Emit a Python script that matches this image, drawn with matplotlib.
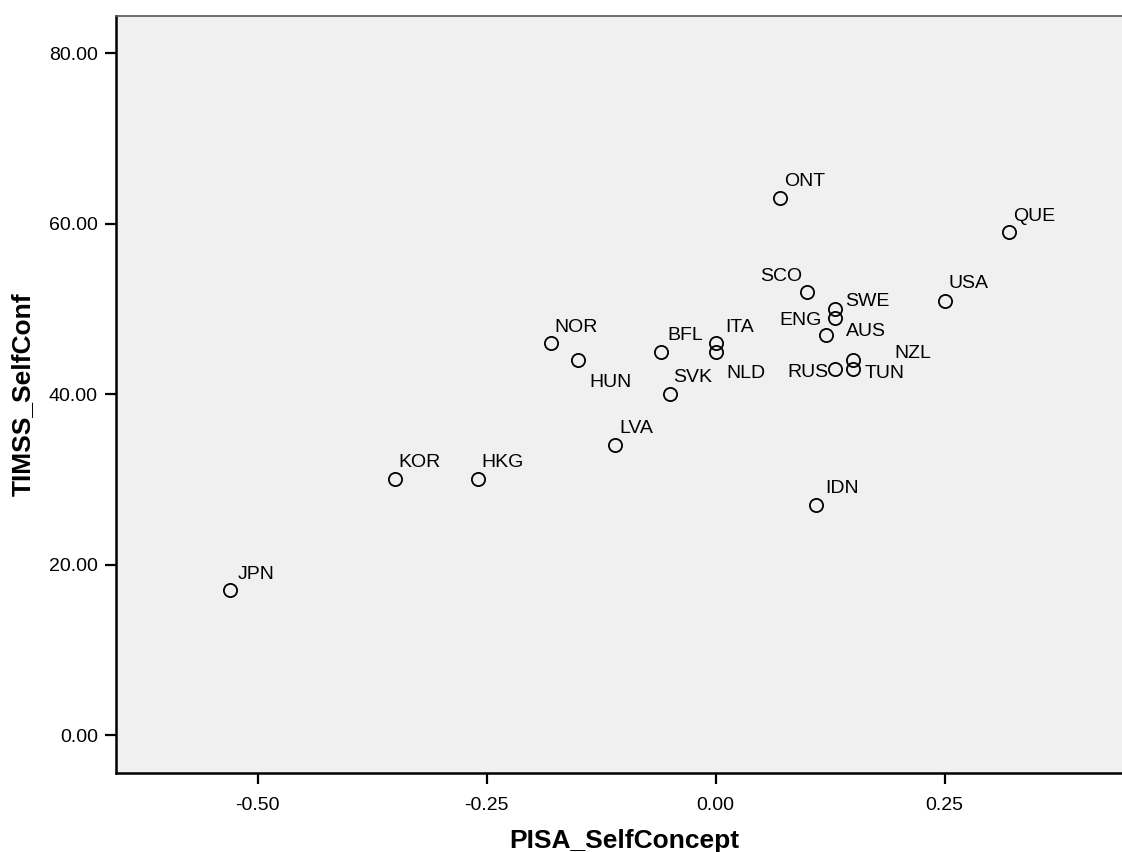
import matplotlib
matplotlib.use("Agg")
import matplotlib.pyplot as plt

countries = ["JPN", "KOR", "HKG", "NOR", "HUN", "BFL", "ITA", "NLD", "SVK", "LVA", "IDN",
             "ONT", "QUE", "SCO", "USA", "SWE", "ENG", "AUS", "RUS", "NZL", "TUN"]
pisa_selfconcept = [-0.53, -0.35, -0.26, -0.18, -0.15, -0.06, 0.00, 0.00, -0.05, -0.11, 0.11,
                    0.07, 0.32, 0.10, 0.25, 0.13, 0.13, 0.12, 0.13, 0.15, 0.15]
timss_selfconf = [17, 30, 30, 46, 44, 45, 46, 45, 40, 34, 27,
                  63, 59, 52, 51, 50, 49, 47, 43, 44, 43]

x_ticks = [-0.50, -0.25, 0.00, 0.25]
y_ticks = [0, 20, 40, 60, 80]

# label placement (offset in pixels, horizontal alignment) -- layout only
label_offsets = {
    "JPN": (7, 11, "left"), "KOR": (3.5, 12, "left"), "HKG": (4, 12, "left"),
    "NOR": (3.6, 11.4, "left"), "HUN": (10.7, -27.3, "left"), "BFL": (6.4, 12, "left"),
    "ITA": (9.7, 11.4, "left"), "NLD": (11, -26.7, "left"), "SVK": (3.6, 12, "left"),
    "LVA": (4, 12, "left"), "IDN": (9.3, 12, "left"), "ONT": (4.3, 12, "left"),
    "QUE": (4.3, 11.7, "left"), "SCO": (-5, 10.6, "right"), "USA": (3.7, 12.7, "left"),
    "SWE": (10.3, 3.3, "left"), "ENG": (-13, -7.7, "right"), "AUS": (20, -1.6, "left"),
    "RUS": (-6.4, -8.4, "right"), "NZL": (41.3, 2, "left"), "TUN": (11.3, -9.7, "left"),
}

plt.rcParams['font.family'] = ['Liberation Sans', 'DejaVu Sans']

fig = plt.figure(figsize=(11.22, 8.52), dpi=100)
ax = fig.add_axes([116/1122, 1 - 773/852, 1 - 116/1122 + 0.01, (773 - 16)/852])
ax.set_facecolor("#f0f0f0")

ax.plot(pisa_selfconcept, timss_selfconf, linestyle="none", marker="o", markersize=9.5,
        markerfacecolor="none", markeredgecolor="black", markeredgewidth=1.3, zorder=3)

for name, xv, yv in zip(countries, pisa_selfconcept, timss_selfconf):
    dx, dy, ha = label_offsets[name]
    ax.annotate(name, (xv, yv), xytext=(dx, dy), textcoords="offset pixels",
                ha=ha, va="baseline", fontsize=14, color="black")

ax.set_xlim(-0.6547, 0.4436 + 0.01 * 1.0983 / (1 - 116/1122))
ax.set_ylim(-4.46, 84.4)
ax.set_xticks(x_ticks)
ax.set_xticklabels([f"{v:.2f}" for v in x_ticks])
ax.set_yticks(y_ticks)
ax.set_yticklabels([f"{v:.2f}" for v in y_ticks])

ax.tick_params(axis="both", labelsize=14, width=1.6, length=8, color="black")
ax.tick_params(axis="x", pad=9)
ax.tick_params(axis="y", pad=5)

for side in ["left", "bottom"]:
    ax.spines[side].set_linewidth(1.8)
    ax.spines[side].set_color("black")
ax.spines["top"].set_linewidth(1.2)
ax.spines["top"].set_color("#555555")
ax.spines["right"].set_visible(False)

ax.set_xlabel("PISA_SelfConcept", fontsize=19, fontweight="bold", labelpad=11)
ax.set_ylabel("TIMSS_SelfConf", fontsize=19, fontweight="bold", labelpad=10)

fig.savefig("out.png", dpi=100)
